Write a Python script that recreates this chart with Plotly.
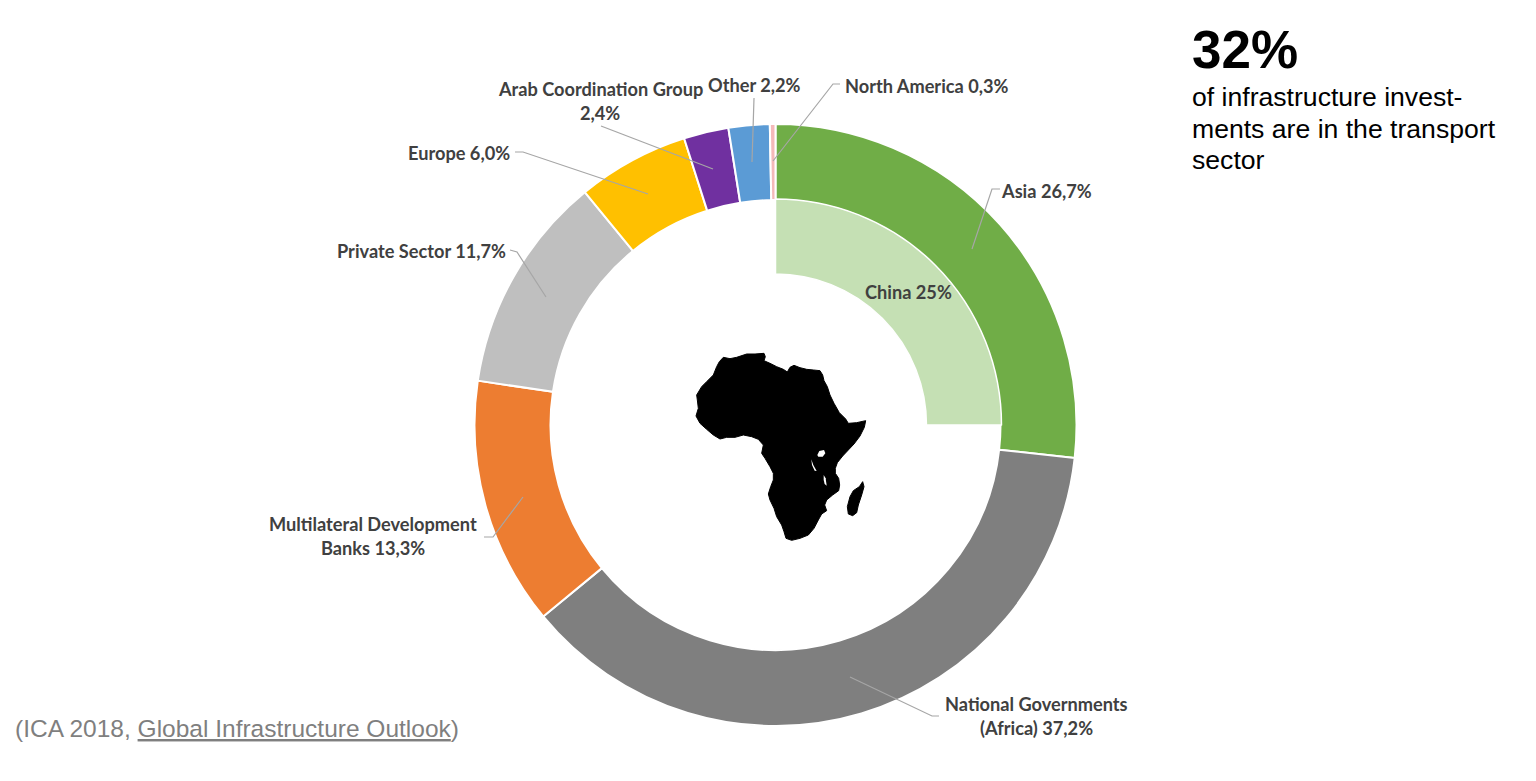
import plotly.graph_objects as go

W, H = 1536, 781
CX, CY = 775.5, 425

categories = ["Asia", "National Governments (Africa)", "Multilateral Development Banks",
              "Private Sector", "Europe", "Arab Coordination Group", "Other", "North America"]
shares = [26.7, 37.2, 13.3, 11.7, 6.0, 2.4, 2.2, 0.3]
ring_colors = ["#70AD47", "#7F7F7F", "#ED7D31", "#BFBFBF", "#FFC000", "#7030A0", "#5B9BD5", "#F4B9B9"]

inner_categories = ["China", "Rest"]
inner_shares = [25, 75]
inner_colors = ["#C5E0B4", "rgba(0,0,0,0)"]

# label lines: text, centre x, centre y
label_lines = [
    ("Asia 26,7%", 1046, 191), ("China 25%", 908, 292),
    ("North America 0,3%", 927, 86), ("Other 2,2%", 754, 85),
    ("Arab Coordination Group", 600, 89), ("2,4%", 600, 113),
    ("Europe 6,0%", 459, 153), ("Private Sector 11,7%", 421, 251),
    ("Multilateral Development", 373, 524), ("Banks 13,3%", 373, 548),
    ("National Governments", 1036, 704), ("(Africa) 37,2%", 1036, 728),
]

# leader lines (annotation guides)
leaders = [
    [(1000, 189), (992, 189), (972, 249)],
    [(840, 84), (833, 84), (773, 161)],
    [(754, 98), (752, 162)],
    [(601, 126), (713, 169)],
    [(515, 152), (523, 152), (648, 194)],
    [(510, 250), (517, 252), (546, 297)],
    [(484, 537), (493, 537), (523, 497)],
    [(939, 716), (932, 716), (850, 677)],
]

side_lines = ["of infrastructure invest-", "ments are in the transport", "sector"]

# Africa silhouette outline in pixels of a 3x crop at (680, 340)
africa = [(130,52),(150,56),(170,52),(200,42),(225,42),(252,40),(256,50),(252,62),(270,70),(290,80),(310,88),(322,96),
          (330,82),(342,76),(360,83),(380,88),(400,90),(420,92),(428,105),(432,122),(442,140),(450,165),(462,190),
          (478,218),(497,237),(505,250),(530,248),(557,242),(553,262),(540,288),(522,312),(505,330),(488,348),
          (472,368),(466,385),(466,400),(476,415),(479,435),(476,452),(458,465),(440,480),(434,495),(440,512),
          (425,522),(415,540),(402,565),(385,585),(360,595),(335,601),(318,595),(312,575),(305,555),(290,530),
          (282,505),(270,480),(265,462),(272,440),(280,420),(280,400),(270,380),(255,355),(245,340),(250,315),
          (235,298),(215,290),(190,285),(165,292),(140,292),(120,297),(100,285),(80,268),(60,250),(48,228),(55,205),
          (52,180),(50,165),(65,140),(80,125),(100,105),(110,80),(118,65)]
madagascar = [(548,425),(552,440),(545,465),(535,495),(530,518),(518,527),(505,522),(502,500),(510,470),(520,452),(538,440)]
lakes = [[(412,345),(418,333),(432,330),(436,340),(428,350),(415,350)],
         [(394,358),(400,375),(410,393),(404,392),(396,375)],
         [(431,405),(437,415),(440,437),(434,432),(431,420)]]


def fx(x):
    return x / W


def fy(y):
    return 1 - y / H


def to_path(points, close=False):
    s = "M" + " L".join(f"{fx(x):.5f},{fy(y):.5f}" for x, y in points)
    return s + (" Z" if close else "")


def crop(points):
    return [(680 + x / 3, 340 + y / 3) for x, y in points]


def domain(r):
    return dict(x=[fx(CX - r), fx(CX + r)], y=[fy(CY + r), fy(CY - r)])


fig = go.Figure()
fig.add_trace(go.Pie(labels=categories, values=shares, sort=False, direction="clockwise", rotation=0,
                     hole=225 / 301, domain=domain(301), textinfo="none", hoverinfo="label+value", showlegend=False,
                     marker=dict(colors=ring_colors, line=dict(color="white", width=2))))
fig.add_trace(go.Pie(labels=inner_categories, values=inner_shares, sort=False, direction="clockwise", rotation=0,
                     hole=0.668, domain=domain(226), textinfo="none", hoverinfo="skip", showlegend=False,
                     marker=dict(colors=inner_colors, line=dict(color="white", width=[1.5, 0]))))

shapes = [dict(type="path", xref="paper", yref="paper", path=to_path(l),
               line=dict(color="#A6A6A6", width=1.2)) for l in leaders]
shapes.append(dict(type="path", xref="paper", yref="paper", path=to_path(crop(africa), True),
                   fillcolor="black", line=dict(color="black", width=1)))
shapes.append(dict(type="path", xref="paper", yref="paper", path=to_path(crop(madagascar), True),
                   fillcolor="black", line=dict(color="black", width=1)))
for lake in lakes:
    shapes.append(dict(type="path", xref="paper", yref="paper", path=to_path(crop(lake), True),
                       fillcolor="white", line=dict(width=0)))

ann = []


def text(t, x, y, size, color, anchor="center", bold=False, family="Lato"):
    ann.append(dict(text=f"<b>{t}</b>" if bold else t, x=fx(x), y=fy(y), xref="paper", yref="paper",
                    xanchor=anchor, yanchor="middle", showarrow=False,
                    font=dict(size=size, color=color, family=family)))


for t, x, y in label_lines:
    text(t, x, y, 18.2, "#404040", bold=True)
text("32%", 1190, 50, 53, "black", "left", True, "Liberation Sans")
for t, y in zip(side_lines, [97, 129, 160]):
    text(t, 1190, y, 26.6, "black", "left", False, "Liberation Sans")
text("(ICA 2018, <u>Global Infrastructure Outlook</u>)", 12.5, 728, 24.5, "#7F7F7F", "left", False, "Liberation Sans")

fig.update_layout(width=W, height=H, margin=dict(l=0, r=0, t=0, b=0), paper_bgcolor="white",
                  plot_bgcolor="white", shapes=shapes, annotations=ann)
fig.write_html("out.html", config=dict(displayModeBar=False),
               post_script="document.body.style.margin='0';document.body.style.overflow='hidden';")
